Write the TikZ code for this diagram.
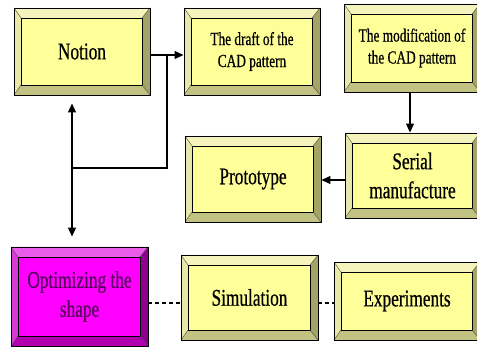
\documentclass[tikz,border=0pt]{standalone}
\usepackage{fontspec}
\setmainfont{Liberation Serif}
\newfontfamily\condfont[FakeStretch=0.72,FakeBold=0.6]{Liberation Serif}
\usetikzlibrary{arrows.meta,calc}
\definecolor{yIn}{HTML}{FFFF99}
\definecolor{yTop}{HTML}{F4F4BC}
\definecolor{yLeft}{HTML}{E8E8A8}
\definecolor{yBot}{HTML}{C2C282}
\definecolor{yRight}{HTML}{A4A466}
\definecolor{mIn}{HTML}{FF00FF}
\definecolor{mTop}{HTML}{EA5CEA}
\definecolor{mLeft}{HTML}{D53CD5}
\definecolor{mBot}{HTML}{B000B0}
\definecolor{mRight}{HTML}{900090}
\definecolor{mText}{HTML}{5A0060}
\tikzset{
  bevel/.style n args={5}{rectangle, draw=black, line width=0.9pt, inner sep=0pt,
    align=center,
    path picture={
      \path (path picture bounding box.north west) coordinate (oNW)
            (path picture bounding box.north east) coordinate (oNE)
            (path picture bounding box.south west) coordinate (oSW)
            (path picture bounding box.south east) coordinate (oSE);
      \path ($(oNW)+(7pt,-10pt)$) coordinate (iNW)
            ($(oNE)+(-8pt,-10pt)$) coordinate (iNE)
            ($(oSW)+(7pt,10pt)$) coordinate (iSW)
            ($(oSE)+(-8pt,10pt)$) coordinate (iSE);
      \fill[#1] (oNW) -- (oNE) -- (iNE) -- (iNW) -- cycle;
      \fill[#2] (oNW) -- (iNW) -- (iSW) -- (oSW) -- cycle;
      \fill[#3] (oSW) -- (iSW) -- (iSE) -- (oSE) -- cycle;
      \fill[#4] (oNE) -- (oSE) -- (iSE) -- (iNE) -- cycle;
      \fill[#5] (iNW) rectangle (iSE);
      \draw[line width=0.8pt] (iNW) rectangle (iSE);
      \draw[line width=0.4pt, black!70] (oNW) -- (iNW) (oNE) -- (iNE) (oSW) -- (iSW) (oSE) -- (iSE);
    }},
  ybox/.style={bevel={yTop}{yLeft}{yBot}{yRight}{yIn}, text=black},
  mbox/.style={bevel={mTop}{mLeft}{mBot}{mRight}{mIn}, text=mText},
  bigtxt/.style={font=\condfont\fontsize{24}{29}\selectfont},
  smalltxt/.style={font=\condfont\fontsize{18.5}{22}\selectfont},
  arr/.style={line width=1.2pt, -{Triangle[length=9pt,width=8pt]}},
  plain/.style={line width=1.2pt},
  dline/.style={line width=1.2pt, dashed, dash pattern=on 4pt off 3pt}
}
\begin{document}
\begin{tikzpicture}[x=1pt,y=-1pt]
\useasboundingbox (0,0) rectangle (477,347);
\clip (0,0) rectangle (477,347);
\fill[white] (0,0) rectangle (477,347);

\node[ybox, bigtxt, minimum width=136pt, minimum height=87pt] (notion) at (82,51.5) {Notion};
\node[ybox, smalltxt, minimum width=136pt, minimum height=87pt] (draft) at (252,51.5) {The draft of the\\CAD pattern};
\node[ybox, smalltxt, minimum width=136pt, minimum height=88pt] (mod) at (412,48) {The modification of\\the CAD pattern};
\node[ybox, bigtxt, minimum width=135pt, minimum height=85pt] (serial) at (412.5,175.5) {Serial\\manufacture};
\node[ybox, bigtxt, minimum width=136pt, minimum height=86pt] (proto) at (253,179) {Prototype};
\node[mbox, bigtxt, minimum width=137pt, minimum height=99pt] (opt) at (79.5,296.5) {Optimizing the\\shape};
\node[ybox, bigtxt, minimum width=137pt, minimum height=85pt] (sim) at (249.5,297.5) {Simulation};
\node[ybox, bigtxt, minimum width=146pt, minimum height=78pt] (exp) at (407,301) {Experiments};

\coordinate (j1) at (167,55);
\coordinate (j2) at (167,168);
\coordinate (j3) at (72,168);
\path (j3 |- notion.south) ++(0,8) coordinate (t1);
\path (j3 |- opt.north) ++(0,-10) coordinate (t2);

\draw[arr] ([yshift=-3.5pt]notion.east) -- ([yshift=-3.5pt]draft.west);
\draw[plain] (j1) -- (j2) -- (j3);
\draw[arr] (j3) -- (t1);
\draw[arr] (j3) -- (t2);
\draw[arr] ([xshift=-2pt]mod.south) -- ([xshift=-2.5pt]serial.north);
\draw[arr] ([yshift=-4.5pt]serial.west) -- ([yshift=-1pt]proto.east);
\draw[dline] ([yshift=-6.5pt]opt.east) -- ([yshift=-5.5pt]sim.west);
\draw[dline] ([yshift=-5.5pt]sim.east) -- ([yshift=-2pt]exp.west);
\end{tikzpicture}
\end{document}
